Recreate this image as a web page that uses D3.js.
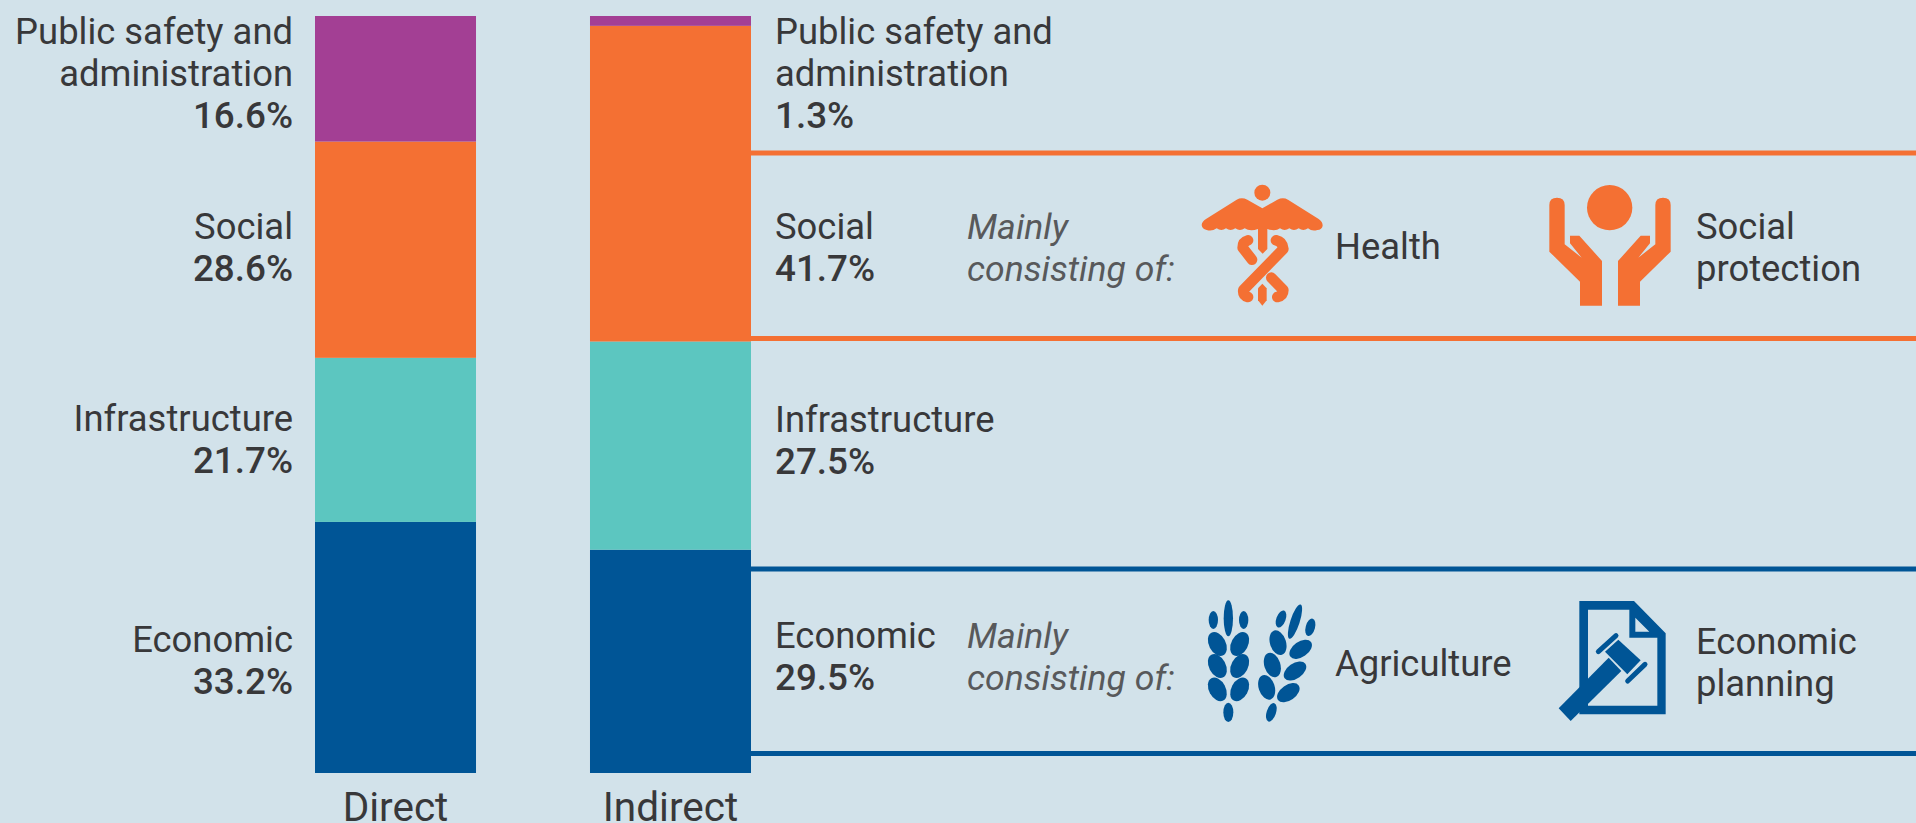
<!DOCTYPE html>
<html><head><meta charset="utf-8">
<script src="https://cdn.jsdelivr.net/npm/d3@7"></script>
<style>html,body{margin:0;padding:0;background:#d2e2ea;overflow:hidden}svg{display:block}text{font-family:Roboto,sans-serif;fill:#38383a}</style>
</head><body><div id="chart"></div>
<script>
const categories = ["Economic","Infrastructure","Social","Public safety and administration"];
const directValues = [33.2,21.7,28.6,16.6];
const indirectValues = [29.5,27.5,41.7,1.3];
const colors = ["#005596","#5cc6c0","#f47033","#a33f94"];
const barNames = ["Direct","Indirect"];

const W=1916,H=823,plotTop=16,plotBottom=773;
const svg=d3.select("#chart").append("svg").attr("width",W).attr("height",H);
svg.append("rect").attr("width",W).attr("height",H).attr("fill","#d2e2ea");
const x=d3.scaleBand().domain(barNames).range([315,751]).paddingInner(0.4145).paddingOuter(0);
const fmt=v=>v.toFixed(1)+"%";

function stack(name,vals){
  const y=d3.scaleLinear().domain([0,d3.sum(vals)]).range([plotBottom,plotTop]);
  let c=0;
  const segs=vals.map((v,i)=>{const s={i,v,y0:y(c),y1:y(c+v)};c+=v;return s;});
  svg.append("g").selectAll("rect").data(segs).join("rect")
    .attr("x",x(name)).attr("width",x.bandwidth())
    .attr("y",d=>d.y1).attr("height",d=>d.y0-d.y1).attr("fill",d=>colors[d.i]);
}
stack("Direct",directValues);
stack("Indirect",indirectValues);

const FS=36.4,LH=42.2;
function label(xp,y,lines,val,anchor){
  const t=svg.append("text").attr("text-anchor",anchor).attr("font-size",FS);
  lines.forEach((l,i)=>t.append("tspan").attr("x",xp).attr("y",y+i*LH).text(l));
  t.append("tspan").attr("x",xp).attr("y",y+lines.length*LH).attr("font-weight",500).attr("font-size",FS+0.4).text(val);
}
const lines=[["Economic"],["Infrastructure"],["Social"],["Public safety and","administration"]];
const dirY=[652,431,239,44], indY=[648,432,239,44];
lines.forEach((l,i)=>{
  label(293,dirY[i],l,fmt(directValues[i]),"end");
  label(775,indY[i],l,fmt(indirectValues[i]),"start");
});
// Bar names under each stack
barNames.forEach(n=>svg.append("text").attr("x",x(n)+x.bandwidth()/2).attr("y",821).attr("text-anchor","middle").attr("font-size",40.5).text(n));

// Rules framing the two highlighted indirect groups
[[153,colors[2]],[338.5,colors[2]],[569,colors[0]],[753.5,colors[0]]].forEach(([yy,c])=>
  svg.append("rect").attr("x",751).attr("y",yy-2.5).attr("width",W-751).attr("height",5).attr("fill",c));

// "Mainly consisting of:" notes
[239,648].forEach(yy=>{
  const t=svg.append("text").attr("font-size",FS-0.8).attr("font-style","italic").style("fill","#58595b");
  t.append("tspan").attr("x",967).attr("y",yy).text("Mainly");
  t.append("tspan").attr("x",967).attr("y",yy+LH).text("consisting of:");
});
function plain(xp,y,arr){const t=svg.append("text").attr("font-size",FS);arr.forEach((s,i)=>t.append("tspan").attr("x",xp).attr("y",y+i*LH).text(s));}
plain(1335,259,["Health"]);plain(1696,239,["Social","protection"]);
plain(1335,676,["Agriculture"]);plain(1696,654,["Economic","planning"]);

// Pictograms, each drawn in a 1/3-scale local grid
function icon(px,py,c){return svg.append("g").attr("transform",`translate(${px},${py}) scale(${1/3})`).attr("fill",c);}

// Health: caduceus
const o=colors[2], health=icon(1190,175,o);
health.append("circle").attr("cx",217).attr("cy",53).attr("r",24);
health.append("path").attr("d","M35 150 Q36 140 48 132 L140 74 Q155 66 172 74 L217 100 L262 74 Q279 66 294 74 L386 132 Q398 140 398 152 Q396 164 382 165 Q366 170 354 160 Q340 170 326 160 Q312 170 298 160 Q284 170 270 160 Q256 170 232 162 L232 222 L218 236 L204 222 L204 162 Q180 170 164 160 Q150 170 136 160 Q122 170 108 160 Q94 170 80 160 Q66 170 50 165 Q36 162 35 150Z");
const snake=health.append("g").attr("fill","none").attr("stroke",o).attr("stroke-width",32).attr("stroke-linecap","round").attr("stroke-linejoin","round");
snake.append("path").attr("d","M174 196 Q158 200 158 218 L186 254");
snake.append("path").attr("d","M258 196 Q278 200 280 222 L160 345 Q158 362 174 366");
snake.append("path").attr("d","M244 308 L280 345 Q280 362 262 366");
health.append("path").attr("d","M204 340 L217 326 L230 340 L230 376 L217 392 L204 376Z");

// Social protection: two raised hands around a figure's head
const hands=icon(1540,175,o);
hands.append("circle").attr("cx",209).attr("cy",98).attr("r",68);
const hand="M28 90 Q28 68 51 68 Q74 68 74 90 L74 208 L125 248 L90 205 L90 182 L118 182 L186 258 L186 392 L120 392 L120 320 L28 230Z";
hands.append("path").attr("d",hand);
hands.append("path").attr("d",hand).attr("transform","translate(420,0) scale(-1,1)");

// Agriculture: two ears of wheat
const b=colors[0], wheat=icon(1195,595,b);
const grains=[[100,70,14,54,0],[55,75,14,27,0],[146,75,14,27,0],[67,147,25,38,-28],[134,147,25,38,28],[67,213,25,38,-28],[134,213,25,38,28],[67,283,25,38,-28],[134,283,25,38,28],[100,352,15,29,0],
 [300,80,14,54,18],[258,72,14,27,20],[346,97,14,27,15],[249,143,24,38,-18],[317,163,23,38,55],[232,210,24,38,-18],[300,228,23,38,55],[215,277,24,38,-18],[280,293,23,38,55],[229,352,14,29,18]];
wheat.selectAll("ellipse").data(grains).join("ellipse")
  .attr("rx",d=>d[2]).attr("ry",d=>d[3])
  .attr("transform",d=>`translate(${d[0]},${d[1]}) rotate(${d[4]})`);

// Economic planning: document with a gavel
const plan=icon(1550,595,b);
plan.append("path").attr("fill-rule","evenodd").attr("d","M88 18 L252 18 L347 115 L347 358 L88 358Z M114 44 L114 332 L322 332 L322 128 L238 128 L238 44Z M256 68 L256 110 L298 110Z");
plan.append("path").attr("d","M165 170 L205 134 L272 196 L232 238Z");
plan.append("path").attr("d","M176 188 L214 228 L62 378 L26 340Z");
plan.append("g").attr("fill","none").attr("stroke",b).attr("stroke-width",15).attr("stroke-linecap","round")
  .selectAll("line").data([[145,170,198,122],[233,258,285,208]]).join("line")
  .attr("x1",d=>d[0]).attr("y1",d=>d[1]).attr("x2",d=>d[2]).attr("y2",d=>d[3]);
</script></body></html>
